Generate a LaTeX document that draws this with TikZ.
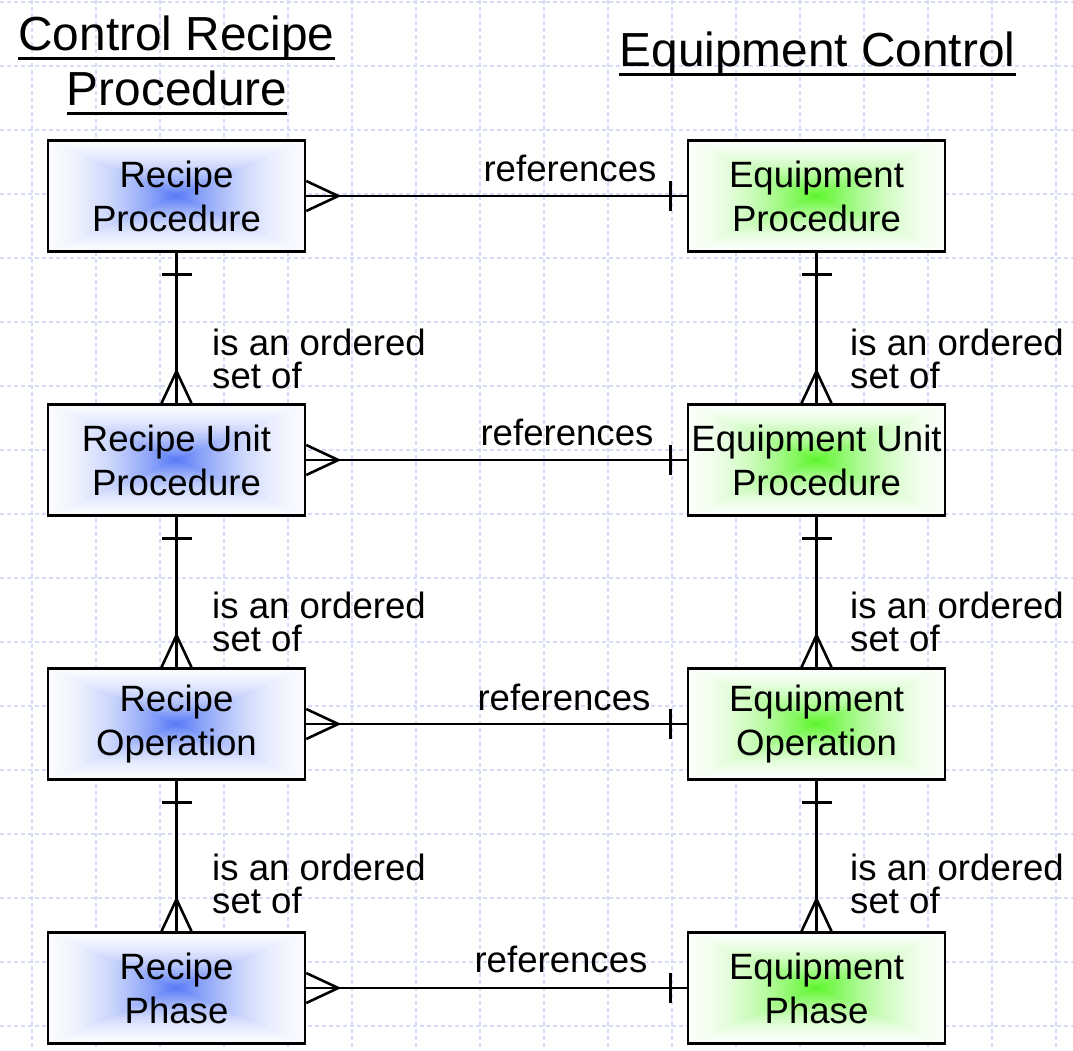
\documentclass[tikz,border=0pt]{standalone}
\usepackage{fontspec}
\setmainfont{Liberation Sans}
\usetikzlibrary{calc}
\pgfdeclarelayer{bg}
\pgfsetlayers{bg,main}

\definecolor{bluecore}{RGB}{85,120,245}
\definecolor{greencore}{RGB}{90,245,40}
\definecolor{gridblue}{RGB}{212,220,248}

\tikzset{
  entity/.style={draw, line width=2.5pt, minimum width=257pt, minimum height=111pt,
    inner sep=0pt, align=center, font=\fontsize{36.6}{44}\selectfont},
  link/.style={line width=2.6pt, line join=miter},
  gridline/.style={gridblue, line width=1.2pt, dash pattern=on 4pt off 3pt},
  title/.style={inner sep=0pt, anchor=base, font=\fontsize{47.8}{57}\selectfont},
  underl/.style={line width=3pt},
  relname/.style={inner sep=0pt, anchor=base, font=\fontsize{36.6}{44}\selectfont},
  ordlabel/.style={inner sep=0pt, anchor=base west, font=\fontsize{36.6}{33}\selectfont},
}

% two-line label whose baseline is that of its first line
\newcommand{\twolines}[2]{\vtop{\baselineskip=33pt\hbox{#1}\hbox{#2}}}

\begin{document}
\begin{tikzpicture}[x=1pt, y=-1pt]
  \useasboundingbox (0,0) rectangle (1073,1050);

  \begin{pgfonlayer}{bg}
    \fill[white] (0,0) rectangle (1073,1050);
    \foreach \gx in {32,96,...,1056} \draw[gridline] (\gx,0) -- (\gx,1050);
    \foreach \gy in {2,66,...,1026} \draw[gridline] (0,\gy) -- (1073,\gy);
  \end{pgfonlayer}

  % column titles
  \node[title] (ct1) at (176.5,50) {Control Recipe};
  \node[title] (ct2) at (177,105) {Procedure};
  \node[title] (et)  at (817.5,66) {Equipment Control};
  \foreach \t in {ct1,ct2,et}
    \draw[underl] ($(\t.base west)+(0,8)$) -- ($(\t.base east)+(0,8)$);

  % entities: control recipe side
  \node[entity] (rp) at (176.5,196) {Recipe\\Procedure};
  \node[entity] (ru) at (176.5,460) {Recipe Unit\\Procedure};
  \node[entity] (ro) at (176.5,724) {Recipe\\Operation};
  \node[entity] (rh) at (176.5,988) {Recipe\\Phase};
  % entities: equipment control side
  \node[entity] (ep) at (816.5,196) {Equipment\\Procedure};
  \node[entity] (eu) at (816.5,460) {Equipment Unit\\Procedure};
  \node[entity] (eo) at (816.5,724) {Equipment\\Operation};
  \node[entity] (eh) at (816.5,988) {Equipment\\Phase};

  % rectangular gradient fills, strong in the middle, fading to white at the border
  \begin{pgfonlayer}{bg}
    \foreach \n/\c in {rp/bluecore,ru/bluecore,ro/bluecore,rh/bluecore,
                       ep/greencore,eu/greencore,eo/greencore,eh/greencore} {
      \foreach \i in {0,...,63} {
        \pgfmathsetmacro\s{1-\i/64}
        \pgfmathsetmacro\p{3+97*(1-\s)^1.7}
        \fill[\c!\p!white] ($(\n.center)!\s!(\n.south west)$) rectangle ($(\n.center)!\s!(\n.north east)$);
      }
    }
  \end{pgfonlayer}

  % "references": many on the recipe side, one on the equipment side
  \foreach \a/\b in {rp/ep,ru/eu,ro/eo,rh/eh} {
    \draw[link] (\a.east) -- (\b.west);
    \draw[link] ($(\a.east)+(0,-15)$) -- ($(\a.east)+(32,0)$) -- ($(\a.east)+(0,15)$);
    \draw[link] ($(\b.west)+(-16,-15)$) -- ($(\b.west)+(-16,15)$);
  }
  \node[relname] (r1) at (570,181) {references};
  \node[relname] (r2) at (567,445) {references};
  \node[relname] (r3) at (564,710) {references};
  \node[relname] (r4) at (561,972) {references};

  % "is an ordered set of": one parent, many children
  \foreach \a/\b in {rp/ru,ru/ro,ro/rh,ep/eu,eu/eo,eo/eh} {
    \draw[link] (\a.south) -- (\b.north);
    \draw[link] ($(\a.south)+(-15,22)$) -- ($(\a.south)+(15,22)$);
    \draw[link] ($(\b.north)+(-15,0)$) -- ($(\b.north)+(0,-32)$) -- ($(\b.north)+(15,0)$);
  }
  \node[ordlabel] (o1) at (212,355) {\twolines{is an ordered}{set of}};
  \node[ordlabel] (o2) at (212,618) {\twolines{is an ordered}{set of}};
  \node[ordlabel] (o3) at (212,880) {\twolines{is an ordered}{set of}};
  \node[ordlabel] (o4) at (850,355) {\twolines{is an ordered}{set of}};
  \node[ordlabel] (o5) at (850,618) {\twolines{is an ordered}{set of}};
  \node[ordlabel] (o6) at (850,880) {\twolines{is an ordered}{set of}};
\end{tikzpicture}
\end{document}
